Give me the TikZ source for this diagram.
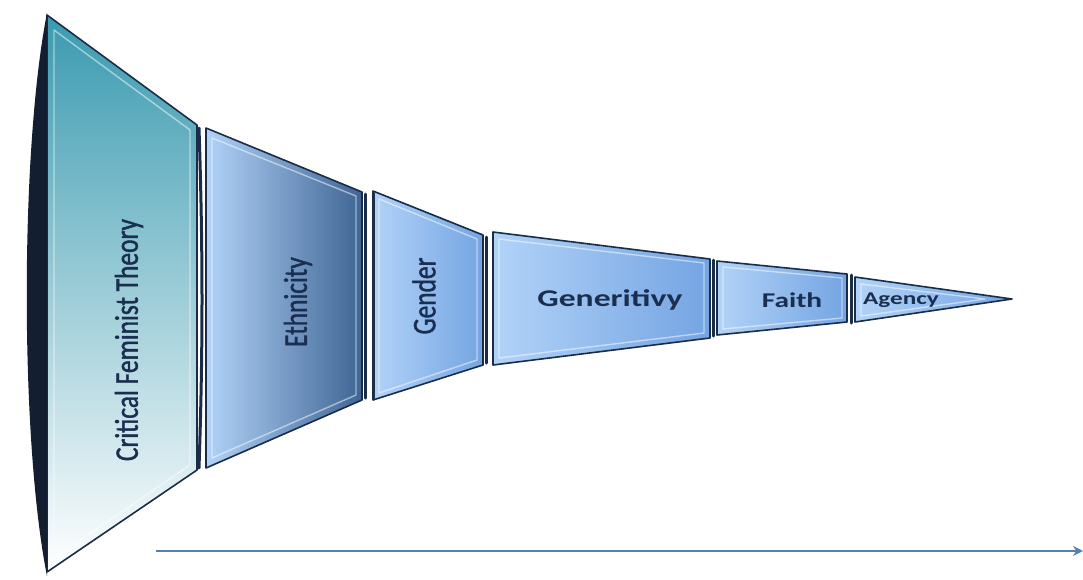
\documentclass[tikz,border=0pt]{standalone}
\usepackage{fontspec}
\setmainfont{Carlito}
\newfontfamily\narrowface[FakeStretch=0.77,FakeBold=1.2]{Carlito}
\newfontfamily\wideface[FakeStretch=1.4]{Carlito}
\usetikzlibrary{arrows.meta}
\definecolor{navy}{HTML}{1B2C46}
\definecolor{txtblue}{HTML}{1A2F50}
\definecolor{teal}{HTML}{3A9AB0}
\definecolor{paleblue}{HTML}{B2D3F8}
\definecolor{midblue}{HTML}{74A4E2}
\definecolor{deepblue}{HTML}{3F6594}
\definecolor{arrowblue}{HTML}{5680B0}
\begin{document}
\begin{tikzpicture}[x=1pt,y=-1pt,
		edge/.style={draw=navy, line width=1.6pt, line join=round},
		bevel/.style={draw=white, opacity=0.5, line width=1.4pt, line join=round},
		side/.style={draw=navy, line width=3pt, line cap=round},
		lab/.style={text=txtblue, rotate=90, inner sep=0pt, font=\narrowface\fontsize{33}{33}\selectfont},
		flat/.style={text=txtblue, inner sep=0pt}]
	\useasboundingbox (0,0) rectangle (1083,579);
	% critical feminist theory
	\shade[top color=teal, middle color=teal!55!white, bottom color=white] (47,15) -- (197,125) -- (197,470) -- (47,572) -- cycle;
	\draw[edge] (47,15) -- (197,125) -- (197,470) -- (47,572) -- cycle;
	\draw[bevel] (54,30) -- (190,130) -- (190,465) -- (54,558) -- cycle;
	\fill[navy!70!black] (47,13) .. controls (20,150) and (20,440) .. (47,576) -- cycle;
	\draw[side] (199,128) .. controls (203,250) and (203,350) .. (199,468);
	% ethnicity
	\shade[left color=paleblue, right color=deepblue] (206,128) -- (362,192) -- (362,400) -- (206,468) -- cycle;
	\draw[edge] (206,128) -- (362,192) -- (362,400) -- (206,468) -- cycle;
	\draw[bevel] (212,138) -- (356,196) -- (356,395) -- (212,458) -- cycle;
	\draw[side] (365,194) -- (365,398);
	% gender
	\shade[left color=paleblue, right color=midblue] (373,191) -- (483,235) -- (483,365) -- (373,400) -- cycle;
	\draw[edge] (373,191) -- (483,235) -- (483,365) -- (373,400) -- cycle;
	\draw[bevel] (379,199) -- (477,239) -- (477,360) -- (379,393) -- cycle;
	\draw[side] (373,193) -- (373,398);
	\draw[side] (486,237) -- (486,363);
	% generitivy
	\shade[left color=paleblue, right color=midblue] (493,232) -- (710,259) -- (710,338) -- (493,365) -- cycle;
	\draw[edge] (493,232) -- (710,259) -- (710,338) -- (493,365) -- cycle;
	\draw[bevel] (499,239) -- (704,263) -- (704,333) -- (499,358) -- cycle;
	\draw[side] (713,260) -- (713,336);
	% faith
	\shade[left color=paleblue, right color=midblue] (717,261) -- (847,274) -- (847,322) -- (717,335) -- cycle;
	\draw[edge] (717,261) -- (847,274) -- (847,322) -- (717,335) -- cycle;
	\draw[bevel] (723,267) -- (842,278) -- (842,318) -- (723,329) -- cycle;
	\draw[side] (851,275) -- (851,323);
	% agency
	\shade[left color=paleblue, right color=midblue] (855,277) -- (1012,299) -- (855,322) -- cycle;
	\draw[edge] (855,277) -- (1012,299) -- (855,322) -- cycle;
	\draw[bevel] (861,284) -- (985,299) -- (861,316) -- cycle;
	% labels
	\node[lab] (cft) at (129,340) {Critical Feminist Theory};
	\node[lab] (eth) at (298,302) {Ethnicity};
	\node[lab] (gnd) at (424,296) {Gender};
	\node[flat, font=\wideface\bfseries\fontsize{24}{24}\selectfont] (gnr) at (610,300) {Generitivy};
	\node[flat, font=\wideface\bfseries\fontsize{21}{21}\selectfont] (fth) at (792,300) {Faith};
	\node[flat, font=\wideface\bfseries\fontsize{18}{18}\selectfont] (agc) at (901,300) {Agency};
	% axis
	\coordinate (start) at (156,551);
	\coordinate (end) at (1083,551);
	\draw[arrowblue, line width=2.6pt, -{Stealth[length=10pt,width=10pt]}] (start) -- (end);
\end{tikzpicture}
\end{document}
